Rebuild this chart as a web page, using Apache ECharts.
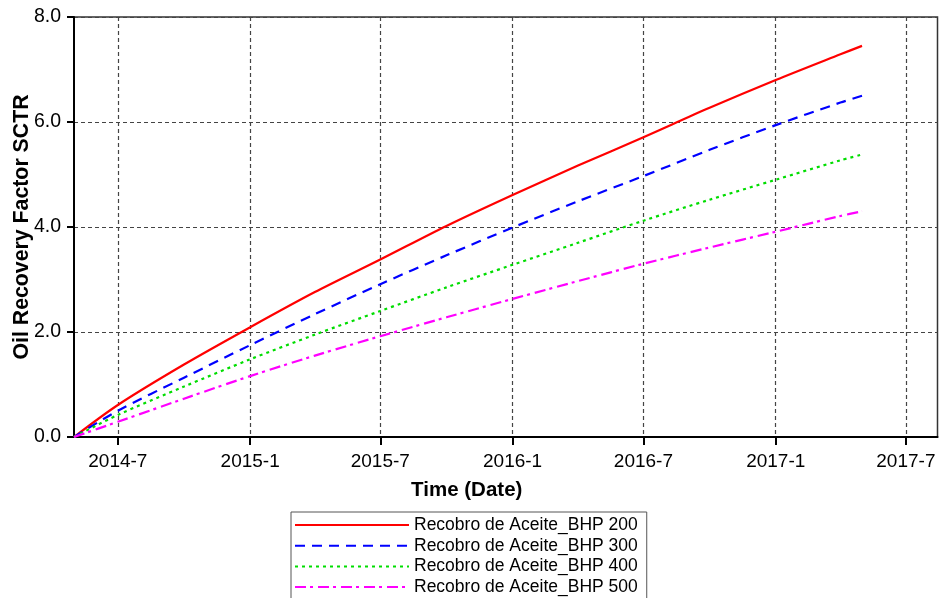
<!DOCTYPE html>
<html>
<head>
<meta charset="utf-8">
<script src="https://cdn.jsdelivr.net/npm/echarts@6/dist/echarts.min.js"></script>
<style>html,body{margin:0;padding:0;background:#fff}#c{width:939px;height:598px}</style>
</head>
<body>
<div id="c"></div>
<script>
const dates = ['2014-05-01','2014-07-01','2014-10-01','2015-01-01','2015-04-01','2015-07-01','2015-10-01','2016-01-01','2016-04-01','2016-07-01','2016-10-01','2017-01-01','2017-04-01','2017-05-01'];
const bhp200 = [0, 0.61, 1.38, 2.09, 2.76, 3.38, 4.02, 4.61, 5.17, 5.71, 6.27, 6.80, 7.29, 7.45];
const bhp300 = [0, 0.50, 1.13, 1.75, 2.34, 2.91, 3.46, 3.99, 4.49, 4.97, 5.47, 5.94, 6.37, 6.50];
const bhp400 = [0, 0.42, 0.96, 1.48, 1.95, 2.40, 2.85, 3.28, 3.70, 4.12, 4.52, 4.90, 5.27, 5.38];
const bhp500 = [0, 0.29, 0.73, 1.16, 1.55, 1.92, 2.28, 2.63, 2.97, 3.30, 3.61, 3.91, 4.21, 4.30];
const seriesNames = ['Recobro de Aceite_BHP 200','Recobro de Aceite_BHP 300','Recobro de Aceite_BHP 400','Recobro de Aceite_BHP 500'];
const xTickDates = ['2014-07-01','2015-01-01','2015-07-01','2016-01-01','2016-07-01','2017-01-01','2017-07-01'];
const xTickLabels = ['2014-7','2015-1','2015-7','2016-1','2016-7','2017-1','2017-7'];
const xMin = '2014-05-01', xMax = '2017-08-14';

const ts = s => { const p = s.split('-').map(Number); return Date.UTC(p[0], p[1]-1, p[2]); };
const tickTs = xTickDates.map(ts);
const labelFor = v => { let best = '', d = Infinity; tickTs.forEach((t,i)=>{ const dd = Math.abs(t - v); if (dd < d) { d = dd; best = xTickLabels[i]; } }); return d < 86400000 ? best : ''; };

const font = 'Liberation Sans, Arial, sans-serif';
const colors = ['#ff0000','#0000ff','#00dd00','#ff00ff'];
const dashes = ['solid',[10,7],[3,4],[11,4,3,5]];
const vals = [bhp200,bhp300,bhp400,bhp500];

const chart = echarts.init(document.getElementById('c'), null, {renderer:'canvas'});
chart.setOption({
  animation:false,
  backgroundColor:'#fff',
  grid:{left:74,right:1.5,top:17,bottom:161,show:true,borderColor:'#333',borderWidth:1.5,backgroundColor:'transparent',containLabel:false,outerBoundsMode:'none'},
  legend:{
    orient:'vertical', left:291, top:512, height:120, width:400,
    data:seriesNames,
    itemWidth:114, itemHeight:18, itemGap:2.7,
    borderColor:'#555', borderWidth:1, padding:[4,9,3,3],
    itemStyle:{opacity:0},
    textStyle:{fontFamily:font,fontSize:17.5,color:'#000'}
  },
  xAxis:{
    type:'value', min:ts(xMin), max:ts(xMax),
    name:'Time (Date)', nameLocation:'middle', nameGap:43, nameMoveOverlap:false,
    nameTextStyle:{fontFamily:font,fontSize:20.5,fontWeight:'bold',color:'#000',padding:[0,78,0,0]},
    axisLine:{lineStyle:{color:'#000',width:2}},
    axisTick:{show:true,length:8,inside:false,customValues:tickTs,lineStyle:{color:'#000',width:2}},
    axisLabel:{customValues:tickTs,formatter:v=>labelFor(v),fontFamily:font,fontSize:19,color:'#000',margin:15},
    splitLine:{show:true,lineStyle:{color:'#444',type:[4,3],width:1.2}}
  },
  yAxis:{
    type:'value', min:0, max:8, interval:2,
    name:'Oil Recovery Factor SCTR', nameLocation:'middle', nameGap:41, nameRotate:90, nameMoveOverlap:false,
    nameTextStyle:{fontFamily:font,fontSize:21.3,fontWeight:'bold',color:'#000'},
    axisLine:{show:true,lineStyle:{color:'#000',width:2}},
    axisTick:{show:true,length:7,lineStyle:{color:'#000',width:2}},
    axisLabel:{formatter:v=>v.toFixed(1),fontFamily:font,fontSize:19.5,color:'#000',margin:13},
    splitLine:{show:true,lineStyle:{color:'#444',type:[4,3],width:1.2}}
  },
  series: seriesNames.map((n,i)=>({
    name:n, type:'line', showSymbol:false, symbol:'none', smooth:0.3,
    data: dates.map((d,j)=>[ts(d), vals[i][j]]),
    lineStyle:{color:colors[i],width:2.2,type:dashes[i]},
    itemStyle:{color:colors[i]}
  }))
});
</script>
</body>
</html>
